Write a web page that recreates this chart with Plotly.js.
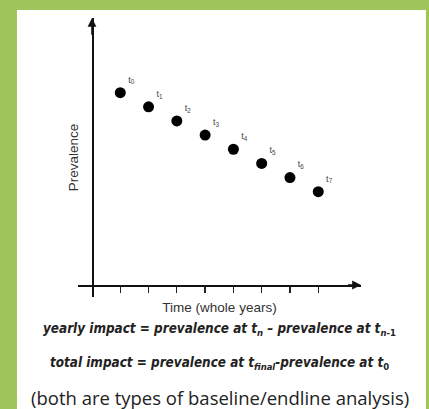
<!DOCTYPE html>
<html>
<head>
<meta charset="utf-8">
<script src="https://cdn.plot.ly/plotly-3.0.1.min.js"></script>
<style>html,body{margin:0;padding:0;background:#a0c55a;}#chart{width:429px;height:409px;}</style>
</head>
<body>
<div id="chart"></div>
<script>
// Data
var years = [1, 2, 3, 4, 5, 6, 7, 8];
var prevalence = [68, 63, 58, 53, 48, 43, 38, 33];
var pointLabels = ['t<sub>0</sub>', 't<sub>1</sub>', 't<sub>2</sub>', 't<sub>3</sub>', 't<sub>4</sub>', 't<sub>5</sub>', 't<sub>6</sub>', 't<sub>7</sub>'];
var xTitle = 'Time (whole years)';
var yTitle = 'Prevalence';
var captionLines = [
  '<span style="font-stretch:condensed">yearly impact = prevalence at t<sub>n</sub> – prevalence at t<sub>n<span style="font-style:normal">-1</span></sub></span>',
  '<span style="font-stretch:condensed">total impact = prevalence at t<sub>final</sub>-prevalence at t<sub><span style="font-style:normal">0</span></sub></span>',
  '(both are types of baseline/endline analysis)'
];

var trace = {
  x: years,
  y: prevalence,
  mode: 'markers+text',
  type: 'scatter',
  marker: {color: '#000', size: 11},
  text: pointLabels,
  textposition: 'top right',
  textfont: {family: 'Liberation Sans, Arial', size: 9, color: '#444'},
  cliponaxis: false,
  hoverinfo: 'skip'
};

var captionFont = {family: 'DejaVu Sans', size: 13.4, color: '#222', weight: 'bold', style: 'italic'};
var layout = {
  width: 429, height: 409,
  margin: {l: 78, r: 68, t: 18, b: 112},
  paper_bgcolor: '#a0c55a',
  plot_bgcolor: 'rgba(0,0,0,0)',
  showlegend: false,
  xaxis: {
    range: [-0.495, 9.512],
    anchor: 'free', position: 0.043,
    showgrid: false, zeroline: false,
    showline: true, linecolor: '#111', linewidth: 1.6,
    tickvals: years, ticks: 'outside', ticklen: 6, tickwidth: 1.3, tickcolor: '#222',
    showticklabels: false,
    title: {text: xTitle, font: {family: 'Liberation Sans, Arial', size: 13.5, color: '#333'}, standoff: 11}
  },
  yaxis: {
    range: [-4.243, 94.41],
    anchor: 'free', position: 0.0495,
    showgrid: false, zeroline: false,
    showline: true, linecolor: '#111', linewidth: 1.6,
    ticks: '', showticklabels: false,
    title: {text: yTitle, font: {family: 'Liberation Sans, Arial', size: 13.5, color: '#333'}, standoff: 8}
  },
  shapes: [
    {type: 'rect', xref: 'paper', yref: 'paper', x0: -0.2155, x1: 1.2297, y0: -0.4014, y1: 1.0287,
     fillcolor: '#ffffff', line: {width: 0}, layer: 'below'}
  ],
  annotations: [
    {x: 9.512, y: 0, ax: 9.0, ay: 0, xref: 'x', yref: 'y', axref: 'x', ayref: 'y',
     showarrow: true, arrowhead: 2, arrowsize: 1.1, arrowwidth: 1.6, arrowcolor: '#111', text: ''},
    {x: 0, y: 94.41, ax: 0, ay: 88, xref: 'x', yref: 'y', axref: 'x', ayref: 'y',
     showarrow: true, arrowhead: 2, arrowsize: 1.1, arrowwidth: 1.6, arrowcolor: '#111', text: ''},
    {xref: 'paper', yref: 'paper', x: 0.5, y: (297 - 329) / 279, xanchor: 'center', yanchor: 'middle',
     showarrow: false, text: captionLines[0], font: captionFont},
    {xref: 'paper', yref: 'paper', x: 0.5, y: (297 - 363) / 279, xanchor: 'center', yanchor: 'middle',
     showarrow: false, text: captionLines[1], font: captionFont},
    {xref: 'paper', yref: 'paper', x: 0.5, y: (297 - 397) / 279, xanchor: 'center', yanchor: 'middle',
     showarrow: false, text: captionLines[2],
     font: {family: 'Open Sans, Noto Sans, sans-serif', size: 18.5, color: '#222'}}
  ]
};

Plotly.newPlot('chart', [trace], layout, {displayModeBar: false, staticPlot: true});
</script>
</body>
</html>
